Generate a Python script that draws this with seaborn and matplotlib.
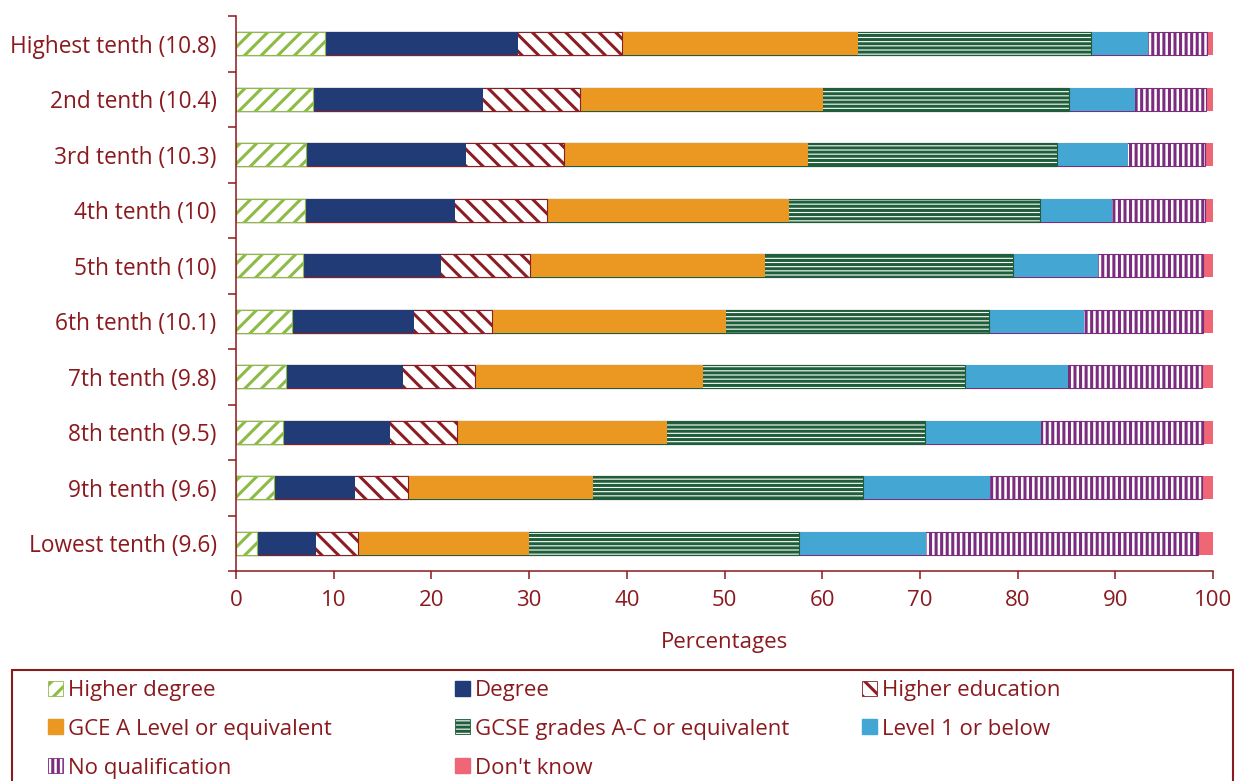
import numpy as np
import pandas as pd
import matplotlib
matplotlib.use("Agg")
import matplotlib.pyplot as plt
from matplotlib.patches import Patch, Rectangle
import seaborn as sns

# Qualification shares by income tenth (percentages)
categories = ["Highest tenth (10.8)", "2nd tenth (10.4)", "3rd tenth (10.3)",
              "4th tenth (10)", "5th tenth (10)", "6th tenth (10.1)",
              "7th tenth (9.8)", "8th tenth (9.5)", "9th tenth (9.6)",
              "Lowest tenth (9.6)"]
higher_degree = [9.1, 7.9, 7.2, 7.1, 6.9, 5.7, 5.1, 4.8, 3.9, 2.1]
degree = [19.8, 17.4, 16.3, 15.3, 14.1, 12.5, 12.0, 11.0, 8.3, 6.1]
higher_ed = [10.6, 9.9, 10.1, 9.4, 9.1, 8.0, 7.4, 6.8, 5.4, 4.3]
a_level = [24.2, 24.9, 24.9, 24.8, 24.0, 24.0, 23.3, 21.5, 18.9, 17.5]
gcse = [23.8, 25.2, 25.5, 25.7, 25.4, 26.9, 26.8, 26.4, 27.7, 27.6]
level1 = [5.8, 6.7, 7.3, 7.4, 8.7, 9.7, 10.6, 11.9, 13.0, 13.0]
no_qual = [6.1, 7.3, 7.9, 9.5, 10.8, 12.2, 13.7, 16.6, 21.7, 27.9]
dont_know = [0.6, 0.7, 0.8, 0.8, 1.0, 1.0, 1.1, 1.0, 1.1, 1.5]
x_ticks = [0, 10, 20, 30, 40, 50, 60, 70, 80, 90, 100]

series = [
    ("Higher degree", higher_degree, "#8dbb45", "//"),
    ("Degree", degree, "#213b76", None),
    ("Higher education", higher_ed, "#8c1d22", "\\\\"),
    ("GCE A Level or equivalent", a_level, "#ea9822", None),
    ("GCSE grades A-C or equivalent", gcse, "#1f5e3a", "----"),
    ("Level 1 or below", level1, "#44a7d3", None),
    ("No qualification", no_qual, "#7b2c7f", "|||"),
    ("Don't know", dont_know, "#ef6676", None),
]

red = "#8b1a1f"
sns.set_style("white")
plt.rcParams["font.family"] = ["Open Sans", "DejaVu Sans"]
plt.rcParams["hatch.linewidth"] = 2.2
plt.rcParams["text.color"] = red
plt.rcParams["axes.labelcolor"] = red
plt.rcParams["xtick.color"] = red
plt.rcParams["ytick.color"] = red

fig = plt.figure(figsize=(12.37, 7.81), dpi=100)
ax = fig.add_axes([236 / 1237, 1 - 571 / 781, (1213 - 236) / 1237, (571 - 16) / 781])

# stacked bars: draw cumulative totals from the right end back to the left
df = pd.DataFrame({name: vals for name, vals, _, _ in series}, index=categories)
cum = df.cumsum(axis=1)
for name, vals, col, hatch in reversed(series):
    d = pd.DataFrame({"cat": categories, "val": cum[name].values})
    if hatch:
        sns.barplot(data=d, x="val", y="cat", orient="h", order=categories,
                    color="white", saturation=1, width=0.41, errorbar=None,
                    edgecolor=col, hatch=hatch, linewidth=0.8, ax=ax)
    else:
        sns.barplot(data=d, x="val", y="cat", orient="h", order=categories,
                    color=col, saturation=1, width=0.41, errorbar=None,
                    linewidth=0, ax=ax)
for p in ax.patches:
    if p.get_hatch() and hasattr(p, "set_hatch_linewidth"):
        p.set_hatch_linewidth(2.2)

ax.set_xlim(0, 100)
ax.set_ylim(9.5, -0.5)
ax.set_xticks(x_ticks)
ax.set_yticks(np.arange(-0.5, 10, 1), minor=True)
ax.tick_params(axis="y", which="major", length=0, pad=14, labelsize=16.3)
ax.tick_params(axis="y", which="minor", length=6, width=1.1, color=red, left=True)
ax.tick_params(axis="x", which="major", length=6, width=1.1, color=red,
               bottom=True, pad=8, labelsize=16)
ax.set_ylabel("")
ax.set_xlabel("Percentages", fontsize=16, labelpad=15)
sns.despine(ax=ax)
for s in ["left", "bottom"]:
    ax.spines[s].set_color(red)
    ax.spines[s].set_linewidth(1.1)

# legend: three fixed columns inside a box cut by the bottom edge
handles = []
for name, vals, col, hatch in series:
    if hatch:
        handles.append(Patch(facecolor="white", edgecolor=col, hatch=hatch,
                             linewidth=0.6, label=name))
    else:
        handles.append(Patch(facecolor=col, edgecolor=col, label=name))
cols = [[0, 3, 6], [1, 4, 7], [2, 5]]
col_x = [48, 455, 862]
for idx, x in zip(cols, col_x):
    fig.legend([handles[i] for i in idx], [handles[i].get_label() for i in idx],
               loc="upper left", bbox_to_anchor=(x / 1237, 1 - 680 / 781),
               frameon=False, fontsize=16, borderpad=0, borderaxespad=0,
               handlelength=0.66, handleheight=0.66, handletextpad=0.25,
               labelspacing=0.8)
fig.add_artist(Rectangle((12 / 1237, -0.05), (1233 - 12) / 1237, 1 - 670 / 781 + 0.05,
                         transform=fig.transFigure, fill=False, edgecolor=red,
                         linewidth=1.5))

plt.savefig("out.png", dpi=100)
